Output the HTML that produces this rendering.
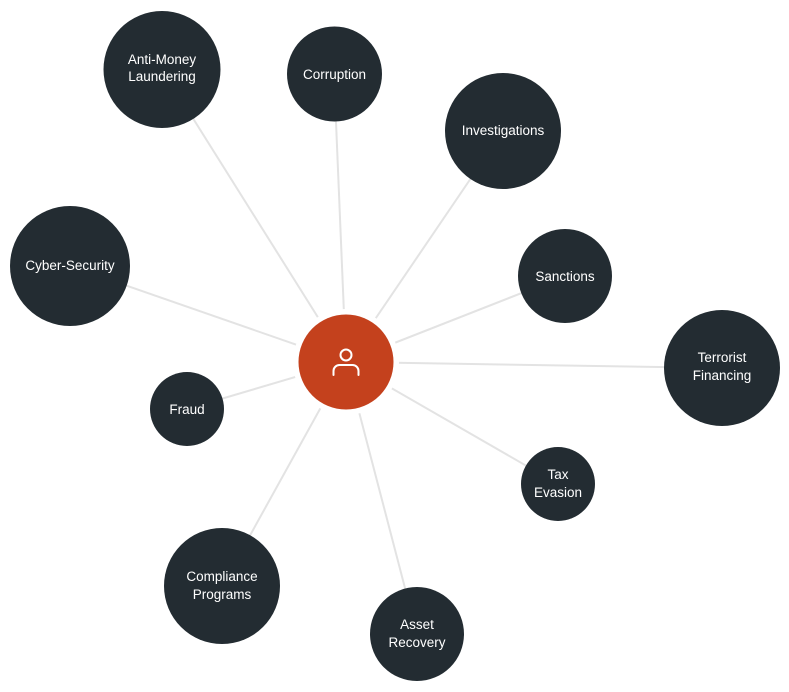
<!DOCTYPE html>
<html><head><style>
html,body{margin:0;padding:0;background:#fff;}
svg{display:block;}
text{font-family:"Liberation Sans",sans-serif;font-size:13.5px;fill:#fff;text-anchor:middle;}
</style></head><body>
<svg width="789" height="692" viewBox="0 0 789 692">
<g stroke="#e3e3e3" stroke-width="2">
<line x1="346" y1="362" x2="162" y2="69"/>
<line x1="346" y1="362" x2="334" y2="74"/>
<line x1="346" y1="362" x2="503" y2="131"/>
<line x1="346" y1="362" x2="70" y2="266"/>
<line x1="346" y1="362" x2="565" y2="276"/>
<line x1="346" y1="362" x2="722" y2="368"/>
<line x1="346" y1="362" x2="187" y2="409"/>
<line x1="346" y1="362" x2="558" y2="484"/>
<line x1="346" y1="362" x2="222" y2="586"/>
<line x1="346" y1="362" x2="417" y2="634"/>
</g>
<g fill="#232c32">
<circle cx="162" cy="69.5" r="58.5"/>
<circle cx="334.5" cy="74" r="47.5"/>
<circle cx="503" cy="131" r="58"/>
<circle cx="70" cy="266" r="60"/>
<circle cx="565" cy="276" r="47"/>
<circle cx="722" cy="368" r="58"/>
<circle cx="187" cy="409" r="37"/>
<circle cx="558" cy="484" r="37"/>
<circle cx="222" cy="586" r="58"/>
<circle cx="417" cy="634" r="47"/>
</g>
<circle cx="346" cy="362" r="53" fill="#fff"/>
<circle cx="346" cy="362" r="47.5" fill="#c4411d"/>
<g fill="none" stroke="#fff" stroke-width="2" stroke-linecap="round">
<circle cx="346" cy="355" r="5.5"/>
<path d="M333.5 375 v-4 a6 6 0 0 1 6 -6 h13 a6 6 0 0 1 6 6 v4"/>
</g>
<text x="162" y="64">Anti-Money</text><text x="162" y="81">Laundering</text>
<text x="334.5" y="79">Corruption</text>
<text x="503" y="135">Investigations</text>
<text x="70" y="270">Cyber-Security</text>
<text x="565" y="281">Sanctions</text>
<text x="722" y="362">Terrorist</text><text x="722" y="380">Financing</text>
<text x="187" y="414">Fraud</text>
<text x="558" y="479">Tax</text><text x="558" y="497">Evasion</text>
<text x="222" y="581">Compliance</text><text x="222" y="599">Programs</text>
<text x="417" y="629">Asset</text><text x="417" y="647">Recovery</text>
</svg>
</body></html>
